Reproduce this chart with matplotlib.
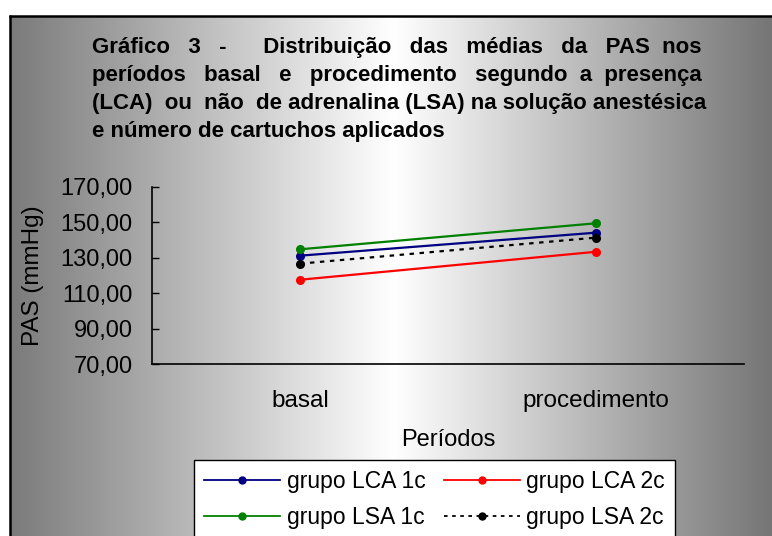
import numpy as np
import matplotlib
matplotlib.use("Agg")
import matplotlib.pyplot as plt

plt.rcParams['font.family'] = ['Liberation Sans', 'DejaVu Sans']

# ---- data ----
periods = ["basal", "procedimento"]
series_names = ["grupo LCA 1c", "grupo LCA 2c", "grupo LSA 1c", "grupo LSA 2c"]
lca_1c = [131.2, 144.2]
lca_2c = [117.6, 133.4]
lsa_1c = [134.8, 149.5]
lsa_2c = [126.7, 141.4]
y_ticks = [70, 90, 110, 130, 150, 170]
y_tick_labels = ["70,00", "90,00", "110,00", "130,00", "150,00", "170,00"]
title_lines = [
    "Gráfico 3 -  Distribuição das médias da PAS nos",
    "períodos basal e procedimento segundo a presença",
    "(LCA) ou não de adrenalina (LSA) na solução anestésica",
    "e número de cartuchos aplicados",
]

W, H = 772, 536
fig = plt.figure(figsize=(W / 100, H / 100), dpi=100)
renderer = fig.canvas.get_renderer()

# ---- background gradient with frame ----
bg = fig.add_axes([0, 0, 1, 1], zorder=-10)
bg.set_xlim(0, W)
bg.set_ylim(H, 0)
bg.axis('off')
xs = np.arange(W) + 0.5
gray = np.interp(xs, [10, 394, 772], [0.48, 1.0, 0.46])
img = np.repeat(gray[None, :], H, axis=0)
img[:16, :] = 1.0
img[:, :10] = 1.0
bg.imshow(np.dstack([img, img, img]), extent=[0, W, H, 0], aspect='auto',
          interpolation='nearest')
bg.plot([10, 10], [15, H], color='black', lw=1.8, solid_capstyle='butt')
bg.plot([9, W], [16, 16], color='black', lw=1.8, solid_capstyle='butt')

# ---- title (justified lines by widening word gaps) ----
baselines = [53, 81, 109, 137]
targets = [703, 703, 707, None]
for line, yb, xr in zip(title_lines, baselines, targets):
    t = fig.text(92 / W, 1 - yb / H, line, fontsize=16, fontweight='bold',
                 va='baseline', ha='left', color='black')
    if xr is None:
        continue
    words = line.split(' ')
    gaps = [1] * (len(words) - 1)
    k = 0
    for _ in range(200):
        s = ''.join(w + (' ' * gaps[i] if i < len(gaps) else '')
                    for i, w in enumerate(words))
        t.set_text(s)
        bb = t.get_window_extent(renderer)
        if bb.x1 >= xr - 2:
            break
        gaps[k % len(gaps)] += 1
        k += 1

# ---- main axes ----
left, right, top, bottom = 152, 744, 187, 364
ax = fig.add_axes([left / W, 1 - bottom / H, (right - left) / W, (bottom - top) / H])
ax.patch.set_alpha(0)
x = np.arange(len(periods))
h1, = ax.plot(x, lca_1c, color='#000080', lw=1.6, marker='o', ms=5.5, label=series_names[0])
h2, = ax.plot(x, lca_2c, color='#FF0000', lw=1.6, marker='o', ms=5.5, label=series_names[1])
h3, = ax.plot(x, lsa_1c, color='#008000', lw=1.6, marker='o', ms=5.5, label=series_names[2])
h4, = ax.plot(x, lsa_2c, color='black', lw=1.6, marker='o', ms=5.5, ls=(0, (2, 2.5)),
              label=series_names[3])

ax.set_xlim(-0.5, 1.5)
ax.set_ylim(70, 170)
ax.set_yticks(y_ticks)
ax.set_yticklabels(y_tick_labels, fontsize=17)
ax.set_xticks(x)
ax.set_xticklabels(periods, fontsize=17.5)
ax.tick_params(axis='y', direction='in', length=5, width=1, pad=14)
ax.tick_params(axis='x', length=0, pad=19)
for s in ['top', 'right']:
    ax.spines[s].set_visible(False)
for s in ['left', 'bottom']:
    ax.spines[s].set_color('black')
    ax.spines[s].set_linewidth(1.2)
ax.set_xlabel("Períodos", fontsize=17, labelpad=12)
ax.set_ylabel("PAS (mmHg)", fontsize=17.5, labelpad=12)

# ---- legend (row-wise order like the reference) ----
handles = [h1, h3, h2, h4]
labels = [series_names[0], series_names[2], series_names[1], series_names[3]]
leg = fig.legend(handles, labels, loc='upper left',
                 bbox_to_anchor=(194 / W, 1 - 460 / H), ncol=2,
                 fontsize=16.5, frameon=True, fancybox=False, framealpha=1,
                 edgecolor='black', facecolor='white', handlelength=3.3,
                 handletextpad=0.3, columnspacing=0.8, borderpad=0.45,
                 labelspacing=0.55, numpoints=1, borderaxespad=0)
leg.get_frame().set_linewidth(1.0)
for h in leg.legend_handles:
    h.set_linewidth(1.3)
    h.set_markersize(5)

fig.savefig("out.png", dpi=100)
